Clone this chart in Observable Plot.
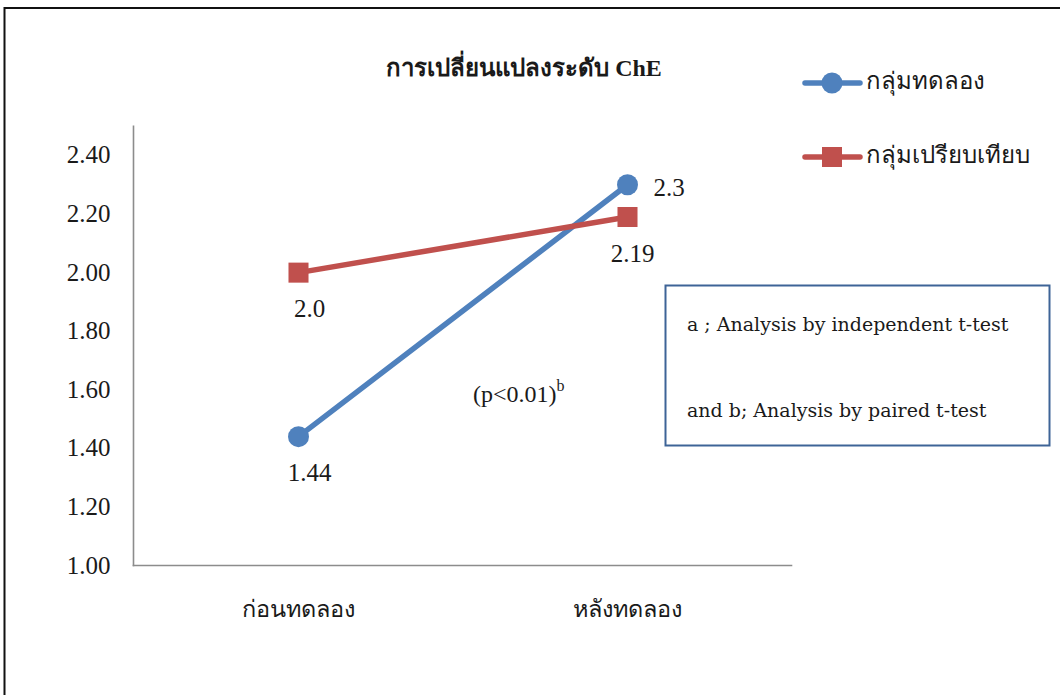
<!DOCTYPE html>
<html>
<head>
<meta charset="utf-8">
<script src="https://cdn.jsdelivr.net/npm/d3@7"></script>
<script src="https://cdn.jsdelivr.net/npm/@observablehq/plot@0.6"></script>
<style>
  html, body { margin: 0; padding: 0; background: #fff; }
  #chart { width: 1060px; height: 695px; overflow: hidden; }
</style>
</head>
<body>
<div id="chart"></div>
<script>
// ---- data ----
const title = "การเปลี่ยนแปลงระดับ ChE";
const phases = ["ก่อนทดลอง", "หลังทดลอง"];
const groups = ["กลุ่มทดลอง", "กลุ่มเปรียบเทียบ"];
const experimentalValues = [1.44, 2.3];
const comparisonValues = [2.0, 2.19];
const experimentalLabels = ["1.44", "2.3"];
const comparisonLabels = ["2.0", "2.19"];
const yTicks = [1.0, 1.2, 1.4, 1.6, 1.8, 2.0, 2.2, 2.4];
const yDomain = [1.0, 2.5];
const pNote = "(p<0.01)";
const pNoteSup = "b";
const noteLines = ["a ; Analysis by independent t-test", "and b; Analysis by paired t-test"];

const colors = ["#4F81BD", "#C0504D"];

const rows = [];
phases.forEach((p, i) => {
  rows.push({phase: p, group: groups[0], value: experimentalValues[i], label: experimentalLabels[i], idx: i});
  rows.push({phase: p, group: groups[1], value: comparisonValues[i], label: comparisonLabels[i], idx: i});
});
const expRows = rows.filter(d => d.group === groups[0]);
const cmpRows = rows.filter(d => d.group === groups[1]);

const serif = "'Liberation Serif', 'Times New Roman', serif";
const labelStyle = {fontFamily: serif, fontSize: 25, fill: "#1a1a1a"};

const plot = Plot.plot({
  width: 1060,
  height: 695,
  marginLeft: 133,
  marginRight: 269,
  marginTop: 125.7,
  marginBottom: 130,
  style: {fontFamily: serif, background: "#fff", overflow: "visible"},
  x: {type: "point", domain: phases, padding: 0.5},
  y: {domain: yDomain},
  color: {domain: groups, range: colors},
  marks: [
    Plot.axisY({ticks: yTicks, tickFormat: d3.format(".2f"), tickSize: 0, tickPadding: 23,
      fontSize: 25, fill: "#1a1a1a", fontFamily: serif, label: null}),
    Plot.axisX({tickSize: 0, tickPadding: 35, fontSize: 23.5, fill: "#1a1a1a", fontFamily: serif, label: null}),
    Plot.frame({anchor: "left", stroke: "#8c8c8c", strokeWidth: 1.6, strokeOpacity: 1}),
    Plot.frame({anchor: "bottom", stroke: "#8c8c8c", strokeWidth: 1.6, strokeOpacity: 1}),
    Plot.line(rows, {x: "phase", y: "value", z: "group", stroke: "group", strokeWidth: 5.5}),
    Plot.dot(expRows, {x: "phase", y: "value", r: 10.5, fill: colors[0], symbol: "circle"}),
    Plot.dot(cmpRows, {x: "phase", y: "value", r: 11.3, fill: colors[1], symbol: "square"}),
    // data labels
    Plot.text(expRows.filter(d => d.idx === 0), {x: "phase", y: "value", text: "label", dx: 11, dy: 36, ...labelStyle}),
    Plot.text(cmpRows.filter(d => d.idx === 0), {x: "phase", y: "value", text: "label", dx: 11, dy: 36, ...labelStyle}),
    Plot.text(expRows.filter(d => d.idx === 1), {x: "phase", y: "value", text: "label", dx: 26, dy: 3, textAnchor: "start", ...labelStyle}),
    Plot.text(cmpRows.filter(d => d.idx === 1), {x: "phase", y: "value", text: "label", dx: 5, dy: 37, ...labelStyle})
  ]
});

const svg = d3.select(plot);

// outer chart border
svg.append("rect").attr("x", 4.5).attr("y", 8).attr("width", 1200).attr("height", 900)
  .attr("fill", "none").attr("stroke", "#111").attr("stroke-width", 2);

// title
svg.append("text").attr("x", 524).attr("y", 70).attr("text-anchor", "middle").attr("dominant-baseline", "middle")
  .attr("font-family", serif).attr("font-size", 24).attr("font-weight", "bold").attr("fill", "#1a1a1a")
  .text(title);

// legend
const legendY = [83, 157];
groups.forEach((g, i) => {
  const gy = legendY[i];
  const lg = svg.append("g");
  lg.append("line").attr("x1", 805).attr("x2", 860).attr("y1", gy).attr("y2", gy)
    .attr("stroke", colors[i]).attr("stroke-width", 5.5).attr("stroke-linecap", "round");
  if (i === 0) {
    lg.append("circle").attr("cx", 832).attr("cy", gy).attr("r", 10.5).attr("fill", colors[i]);
  } else {
    lg.append("rect").attr("x", 822).attr("y", gy - 10).attr("width", 20).attr("height", 20).attr("fill", colors[i]);
  }
  lg.append("text").attr("x", 866).attr("y", gy).attr("text-anchor", "start").attr("dominant-baseline", "middle")
    .attr("font-family", serif).attr("font-size", 24).attr("fill", "#1a1a1a").text(g);
});

// p-value annotation
const pt = svg.append("text").attr("x", 473).attr("y", 396).attr("text-anchor", "start").attr("dominant-baseline", "middle")
  .attr("font-family", serif).attr("font-size", 24).attr("fill", "#1a1a1a");
pt.append("tspan").text(pNote);
pt.append("tspan").attr("dy", -9).attr("font-size", 16).text(pNoteSup);

// note box
svg.append("rect").attr("x", 665.5).attr("y", 285.5).attr("width", 384).attr("height", 160)
  .attr("fill", "#fff").attr("stroke", "#3E6497").attr("stroke-width", 2);
noteLines.forEach((t, i) => {
  svg.append("text").attr("x", 687).attr("y", i === 0 ? 326 : 412).attr("text-anchor", "start").attr("dominant-baseline", "middle")
    .attr("font-family", "'DejaVu Serif', serif").attr("font-size", 19).attr("fill", "#1a1a1a").text(t);
});

document.getElementById("chart").appendChild(plot);
</script>
</body>
</html>
